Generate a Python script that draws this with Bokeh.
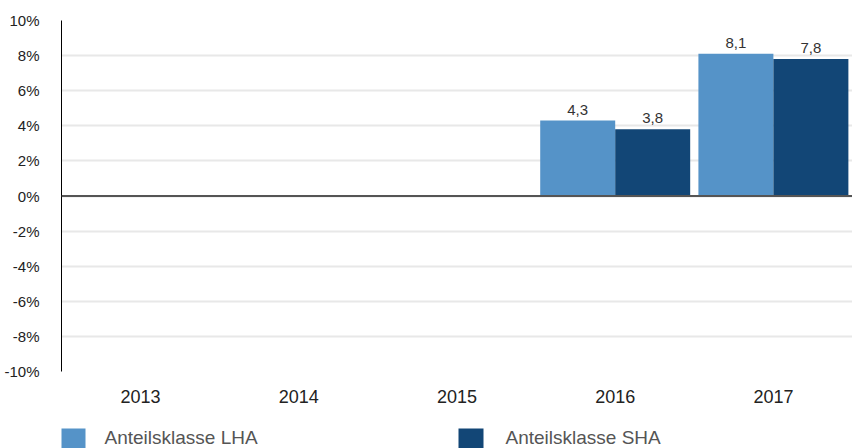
import math
from bokeh.plotting import figure
from bokeh.layouts import column
from bokeh.models import ColumnDataSource, FactorRange, Range1d, Span, FixedTicker
from bokeh.core.properties import value
from bokeh.transform import dodge
from bokeh.embed import file_html
from bokeh.resources import INLINE

years = ["2013", "2014", "2015", "2016", "2017"]
lha = [float("nan"), float("nan"), float("nan"), 4.3, 8.1]
sha = [float("nan"), float("nan"), float("nan"), 3.8, 7.8]
series_names = ["Anteilsklasse LHA", "Anteilsklasse SHA"]
colors = ["#5593c8", "#124676"]
y_ticks = [-10, -8, -6, -4, -2, 0, 2, 4, 6, 8, 10]

FONT = "Liberation Sans"

p = figure(width=852, height=412, output_backend="svg", toolbar_location=None,
           x_range=FactorRange(factors=years, range_padding=0),
           y_range=Range1d(-10, 10),
           min_border_left=61, min_border_right=0, min_border_top=20, min_border_bottom=41)
p.outline_line_color = None

def fmt(v):
    return "" if math.isnan(v) else f"{v:.1f}".replace(".", ",")

src = ColumnDataSource(dict(
    year=years, lha=lha, sha=sha,
    lha_txt=[fmt(v) for v in lha],
    sha_txt=[fmt(v) for v in sha],
    lha_y=[(0 if math.isnan(v) else v) for v in lha],
    sha_y=[(0 if math.isnan(v) else v) for v in sha],
))

bw = 0.474
p.vbar(x=dodge("year", -bw / 2, range=p.x_range), top="lha", bottom=0, width=bw,
       color=colors[0], line_color=None, source=src)
p.vbar(x=dodge("year", bw / 2, range=p.x_range), top="sha", bottom=0, width=bw,
       color=colors[1], line_color=None, source=src)

for col, yc, off in (("lha_txt", "lha_y", -bw / 2), ("sha_txt", "sha_y", bw / 2)):
    p.text(x=dodge("year", off, range=p.x_range), y=yc, text=col, source=src,
           text_align="center", text_baseline="bottom", y_offset=-6,
           text_font_size="15px", text_color="#333333", text_font=value(FONT))

p.add_layout(Span(location=0, dimension="width", line_color="#555555", line_width=2))

p.xgrid.grid_line_color = None
p.ygrid.grid_line_color = "#e8e8e8"
p.ygrid.grid_line_width = 2
p.yaxis.ticker = FixedTicker(ticks=y_ticks)
p.yaxis.major_label_overrides = {t: f"{t}%" for t in y_ticks}
p.yaxis.axis_line_color = "#000000"
p.yaxis.axis_line_width = 1
p.yaxis.major_tick_line_color = None
p.yaxis.minor_tick_line_color = None
p.yaxis.major_label_standoff = 16
p.yaxis.major_label_text_font_size = "15px"
p.yaxis.major_label_text_color = "#222222"
p.yaxis.major_label_text_font = FONT

p.xaxis.axis_line_color = None
p.xaxis.major_tick_line_color = None
p.xaxis.minor_tick_line_color = None
p.xaxis.major_label_standoff = 12
p.xaxis.major_label_text_font_size = "18px"
p.xaxis.major_label_text_color = "#222222"
p.xaxis.major_label_text_font = FONT

# legend strip below the chart; its frame spans screen x 61..852, so data x == screen x
p2 = figure(width=852, height=36, output_backend="svg", toolbar_location=None,
            x_range=Range1d(61, 852), y_range=Range1d(0, 36),
            min_border_left=61, min_border_right=0,
            min_border_top=0, min_border_bottom=0)
p2.outline_line_color = None
p2.xaxis.visible = False
p2.yaxis.visible = False
p2.grid.visible = False

leg_src = ColumnDataSource(dict(
    sx=[72.5, 470.5], tx=[104, 505], name=series_names, color=colors,
))
p2.rect(x="sx", y=9, width=25, height=22, fill_color="color", line_color=None, source=leg_src)
p2.text(x="tx", y=11, text="name", source=leg_src, text_align="left", text_baseline="middle",
        text_font_size="19px", text_color="#555555", text_font=value(FONT))

open("out.html", "w").write(file_html(column(p, p2, spacing=0), INLINE))
